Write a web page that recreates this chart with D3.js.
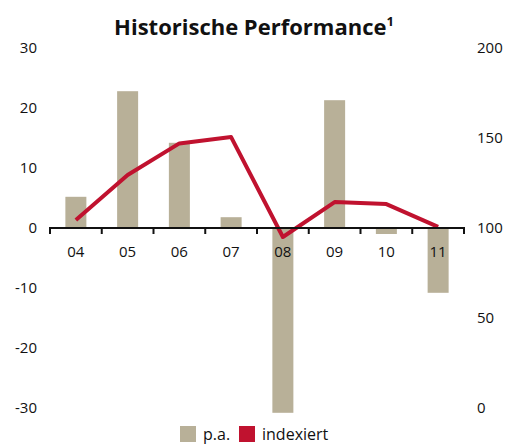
<!DOCTYPE html>
<html>
<head>
<meta charset="utf-8">
<script src="https://cdn.jsdelivr.net/npm/d3@7"></script>
<style>
  body { margin: 0; background: #fff; }
  svg text { font-family: "Open Sans", "DejaVu Sans", sans-serif; fill: #111; }
</style>
</head>
<body>
<svg id="chart" width="509" height="445"></svg>
<script>
// jahre und werte
var years = ["04", "05", "06", "07", "08", "09", "10", "11"];
var paValues = [5.2, 22.8, 14.2, 1.8, -30.8, 21.3, -1.0, -10.8];
var indexValues = [104.4, 129.4, 147, 150.5, 95, 114.4, 113.3, 100.6];
var leftTicks = [30, 20, 10, 0, -10, -20, -30];
var rightTicks = [200, 150, 100, 50, 0];

var svg = d3.select("#chart");

var x = d3.scaleBand().domain(years).range([50, 464]);
var yLeft = d3.scaleLinear().domain([-30, 30]).range([408, 48]);
var yRight = d3.scaleLinear().domain([0, 200]).range([408, 48]);

// titel
var title = svg.append("text")
  .attr("x", 254).attr("y", 35)
  .attr("text-anchor", "middle")
  .style("font-size", "22px").style("font-weight", "bold");
title.append("tspan").text("Historische Performance");
title.append("tspan").attr("dy", -9).style("font-size", "13px").text("1");

// balken
var bw = 21;
svg.append("g").selectAll("rect")
  .data(paValues)
  .join("rect")
  .attr("x", function(d, i) { return x(years[i]) + x.bandwidth() / 2 - bw / 2; })
  .attr("y", function(d) { return yLeft(Math.max(0, d)); })
  .attr("width", bw)
  .attr("height", function(d) { return Math.abs(yLeft(d) - yLeft(0)); })
  .attr("fill", "#b8b098");

// linie
var line = d3.line()
  .x(function(d, i) { return x(years[i]) + x.bandwidth() / 2; })
  .y(function(d) { return yRight(d); });

svg.append("path")
  .datum(indexValues)
  .attr("d", line)
  .attr("fill", "none")
  .attr("stroke", "#c0122f")
  .attr("stroke-width", 4)
  .attr("stroke-linejoin", "round");

// x achse
var xAxis = svg.append("g").attr("transform", "translate(0," + yLeft(0) + ")");
xAxis.append("line")
  .attr("x1", 50).attr("x2", 464)
  .attr("stroke", "#111").attr("stroke-width", 2);
var edges = d3.range(years.length + 1).map(function(i) { return 50 + i * x.step(); });
xAxis.selectAll(".tk").data(edges).join("line")
  .attr("x1", function(d) { return d; }).attr("x2", function(d) { return d; })
  .attr("y1", -1).attr("y2", 6)
  .attr("stroke", "#111").attr("stroke-width", 2);
xAxis.selectAll("text").data(years).join("text")
  .attr("x", function(d) { return x(d) + x.bandwidth() / 2; })
  .attr("y", 29)
  .attr("text-anchor", "middle")
  .style("font-size", "15px")
  .text(function(d) { return d; });

// linke achse
svg.append("g").selectAll("text").data(leftTicks).join("text")
  .attr("x", 37).attr("y", function(d) { return yLeft(d) + 5; })
  .attr("text-anchor", "end")
  .style("font-size", "15px")
  .text(function(d) { return d; });

// rechte achse
svg.append("g").selectAll("text").data(rightTicks).join("text")
  .attr("x", 477).attr("y", function(d) { return yRight(d) + 5; })
  .style("font-size", "15px")
  .text(function(d) { return d; });

// legende
var legend = [{ name: "p.a.", color: "#b8b098", x: 180 }, { name: "indexiert", color: "#c0122f", x: 239 }];
var lg = svg.append("g").selectAll("g").data(legend).join("g");
lg.append("rect")
  .attr("x", function(d) { return d.x; }).attr("y", 426)
  .attr("width", 16).attr("height", 16)
  .attr("fill", function(d) { return d.color; });
lg.append("text")
  .attr("x", function(d) { return d.x + 23; }).attr("y", 440)
  .style("font-size", "16px")
  .text(function(d) { return d.name; });
</script>
</body>
</html>
